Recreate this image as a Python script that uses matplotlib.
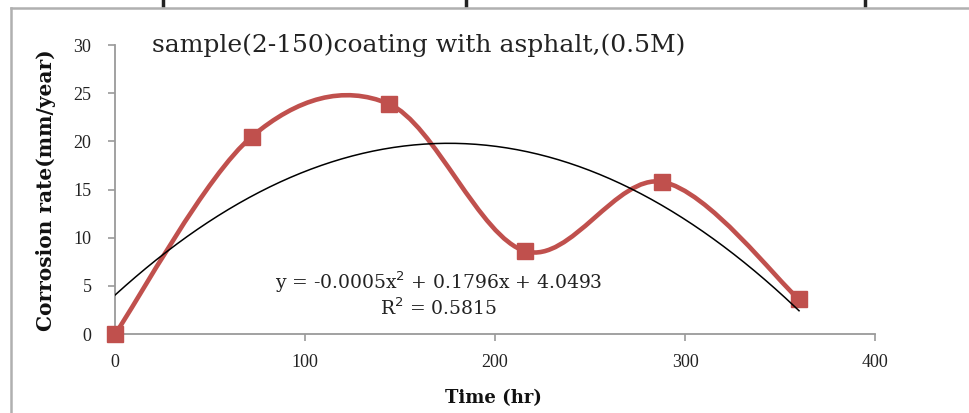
import numpy as np
import matplotlib.pyplot as plt
from matplotlib.path import Path
from matplotlib.patches import PathPatch
from matplotlib.lines import Line2D

# data
time_hr = [0, 72, 144, 216, 288, 360]
rate = [0.0, 20.5, 23.9, 8.6, 15.8, 3.6]
x_ticks = [0, 100, 200, 300, 400]
y_ticks = [0, 5, 10, 15, 20, 25, 30]
title = "sample(2-150)coating with asphalt,(0.5M)"
eq_text = "y = -0.0005x$^2$ + 0.1796x + 4.0493\nR$^2$ = 0.5815"

red = '#C0504D'
grey = '#9A9A9A'
serif = 'DejaVu Serif'

fig = plt.figure(figsize=(9.7, 4.13), dpi=100)
ax = fig.add_axes([0.1186, 0.191, 0.7835, 0.70])

# smoothed line, bezier segments like excel (catmull-rom, 1/6 tension)
x = np.array(time_hr, float)
y = np.array(rate, float)
verts = [(x[0], y[0])]
codes = [Path.MOVETO]
for i in range(len(x) - 1):
    i0 = max(i - 1, 0)
    i3 = min(i + 2, len(x) - 1)
    c1 = (x[i] + (x[i + 1] - x[i0]) / 6, y[i] + (y[i + 1] - y[i0]) / 6)
    c2 = (x[i + 1] - (x[i3] - x[i]) / 6, y[i + 1] - (y[i3] - y[i]) / 6)
    verts += [c1, c2, (x[i + 1], y[i + 1])]
    codes += [Path.CURVE4] * 3
ax.add_patch(PathPatch(Path(verts, codes), facecolor='none', edgecolor=red,
                       lw=3.3, capstyle='round', joinstyle='round', zorder=3))
ax.plot(x, y, ls='none', marker='s', ms=12, color=red, zorder=4, clip_on=False)

# polynomial trendline
coef = np.polyfit(x, y, 2)
xt = np.linspace(x[0], x[-1], 200)
ax.plot(xt, np.polyval(coef, xt), color='black', lw=1.1, zorder=5)

ax.set_xlim(0, 400)
ax.set_ylim(0, 30)
ax.set_xticks(x_ticks)
ax.set_yticks(y_ticks)
for s in ['top', 'right']:
    ax.spines[s].set_visible(False)
for s in ['left', 'bottom']:
    ax.spines[s].set_color(grey)
    ax.spines[s].set_linewidth(1.3)
ax.tick_params(direction='out', length=5, width=1.2, color=grey,
               labelsize=13, labelcolor='#222222')
ax.tick_params(axis='y', pad=12)
ax.tick_params(axis='x', pad=9)
for lab in ax.get_xticklabels() + ax.get_yticklabels():
    lab.set_family('Liberation Serif')

fig.text(0.047, 0.54, 'Corrosion rate(mm/year)', rotation=90, ha='center', va='center',
         family=serif, fontweight='bold', fontsize=14.5, color='#111111')
fig.text(0.509, 0.036, 'Time (hr)', ha='center', va='center',
         family=serif, fontweight='bold', fontsize=13, color='#111111')
fig.text(0.432, 0.891, title, ha='center', va='center', family=serif,
         fontsize=18, color='#222222')
fig.text(0.452, 0.288, eq_text, ha='center', va='center', multialignment='center',
         family=serif, fontsize=13.5, color='#222222', linespacing=1.15)

# outer frame of the chart area
fig.add_artist(Line2D([0.0113, 0.0113], [0.0, 0.981], color='#B0B0B0', lw=1.8))
fig.add_artist(Line2D([0.0113, 0.998], [0.981, 0.981], color='#B0B0B0', lw=1.8))
for px in [163, 466, 865]:
    fig.add_artist(Line2D([px / 970, px / 970], [0.988, 1.0], color='#222222', lw=2.5))

fig.savefig('out.png', dpi=100, facecolor='white')
